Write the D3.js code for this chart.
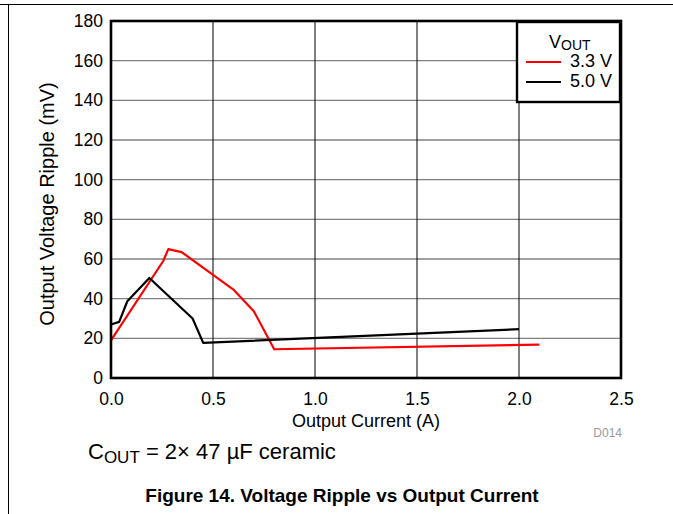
<!DOCTYPE html>
<html>
<head>
<meta charset="utf-8">
<script src="https://cdn.jsdelivr.net/npm/d3@7"></script>
<style>
  html, body { margin: 0; padding: 0; background: #fff; }
  svg { display: block; font-family: "Liberation Sans", Arial, sans-serif; }
</style>
</head>
<body>
<svg id="chart" width="673" height="514"></svg>
<script>
// Output voltage ripple (mV) versus output current (A)
const xTicks = [0, 0.5, 1.0, 1.5, 2.0, 2.5];
const yTicks = [0, 20, 40, 60, 80, 100, 120, 140, 160, 180];

const current33 = [0, 0.256, 0.281, 0.346, 0.60, 0.70, 0.80, 2.10];
const ripple33  = [19, 59, 65, 63.5, 44.6, 33.7, 14.5, 16.8];

const current50 = [0, 0.04, 0.08, 0.188, 0.40, 0.452, 2.0];
const ripple50  = [27, 28.3, 38.7, 50.4, 30, 17.7, 24.6];

const seriesNames  = ["3.3 V", "5.0 V"];
const seriesColors = ["#ff0000", "#000000"];

const svg = d3.select("#chart");

// page frame lines
svg.append("line").attr("x1", 0).attr("x2", 673).attr("y1", 4.5).attr("y2", 4.5)
  .attr("stroke", "#000").attr("stroke-width", 1);
svg.append("line").attr("x1", 8.5).attr("x2", 8.5).attr("y1", 4).attr("y2", 514)
  .attr("stroke", "#000").attr("stroke-width", 1);

const plotL = 111, plotR = 621, plotT = 21, plotB = 378;
const x = d3.scaleLinear().domain([0, 2.5]).range([plotL, plotR]);
const y = d3.scaleLinear().domain([0, 180]).range([plotB, plotT]);

// horizontal grid
svg.append("g").selectAll("line").data(yTicks.slice(1, -1)).join("line")
  .attr("x1", plotL).attr("x2", plotR)
  .attr("y1", d => y(d)).attr("y2", d => y(d))
  .attr("stroke", "#808080").attr("stroke-width", 1.3);

// vertical grid
svg.append("g").selectAll("line").data(xTicks.slice(1, -1)).join("line")
  .attr("x1", d => x(d)).attr("x2", d => x(d))
  .attr("y1", plotT).attr("y2", plotB)
  .attr("stroke", "#000").attr("stroke-width", 1);

// axes (labels only; frame drawn separately)
const yAxis = d3.axisLeft(y).tickValues(yTicks).tickSize(0).tickPadding(8)
  .tickFormat(d3.format("d"));
const gy = svg.append("g").attr("transform", `translate(${plotL},0)`).call(yAxis);
gy.select(".domain").remove();
gy.selectAll("text").attr("font-size", 17.5).attr("fill", "#000")
  .attr("font-family", "Liberation Sans, Arial, sans-serif");

const xAxis = d3.axisBottom(x).tickValues(xTicks).tickSize(0).tickPadding(15)
  .tickFormat(d3.format(".1f"));
const gx = svg.append("g").attr("transform", `translate(0,${plotB})`).call(xAxis);
gx.select(".domain").remove();
gx.selectAll("text").attr("font-size", 17.5).attr("fill", "#000")
  .attr("font-family", "Liberation Sans, Arial, sans-serif");

// data lines
const line = d3.line().x(d => x(d[0])).y(d => y(d[1]));
const series = [
  d3.zip(current33, ripple33),
  d3.zip(current50, ripple50)
];
svg.append("g").selectAll("path").data(series).join("path")
  .attr("d", line)
  .attr("fill", "none")
  .attr("stroke", (d, i) => seriesColors[i])
  .attr("stroke-width", 2.2)
  .attr("stroke-linejoin", "round");

// plot frame
svg.append("rect").attr("x", plotL).attr("y", plotT)
  .attr("width", plotR - plotL).attr("height", plotB - plotT)
  .attr("fill", "none").attr("stroke", "#000").attr("stroke-width", 2.6);

// legend
const lg = svg.append("g");
lg.append("rect").attr("x", 517).attr("y", 22).attr("width", 103).attr("height", 80)
  .attr("fill", "#fff").attr("stroke", "#000").attr("stroke-width", 2.4);
const vt = lg.append("text").attr("x", 549).attr("y", 48).attr("font-size", 18);
vt.append("tspan").text("V");
vt.append("tspan").attr("font-size", 14).attr("dy", 2).text("OUT");
seriesNames.forEach((name, i) => {
  const yy = 62 + i * 20;
  lg.append("line").attr("x1", 526).attr("x2", 561).attr("y1", yy).attr("y2", yy)
    .attr("stroke", seriesColors[i]).attr("stroke-width", 2.2);
  lg.append("text").attr("x", 570).attr("y", yy + 5).attr("font-size", 18).text(name);
});

// axis titles
svg.append("text").attr("x", 366).attr("y", 427)
  .attr("text-anchor", "middle").attr("font-size", 18).text("Output Current (A)");
svg.append("text")
  .attr("transform", `translate(54,204) rotate(-90)`)
  .attr("text-anchor", "middle").attr("font-size", 20).text("Output Voltage Ripple (mV)");

svg.append("text").attr("x", 622).attr("y", 437).attr("text-anchor", "end")
  .attr("font-size", 12).attr("fill", "#999").text("D014");

// note
const note = svg.append("text").attr("x", 88).attr("y", 459).attr("font-size", 22);
note.append("tspan").text("C");
note.append("tspan").attr("font-size", 17).attr("dy", 4).text("OUT");
note.append("tspan").attr("dy", -4).text(" = 2× 47 µF ceramic");

// caption
svg.append("text").attr("x", 342).attr("y", 502).attr("text-anchor", "middle")
  .attr("font-size", 19).attr("font-weight", "bold")
  .text("Figure 14. Voltage Ripple vs Output Current");
</script>
</body>
</html>
